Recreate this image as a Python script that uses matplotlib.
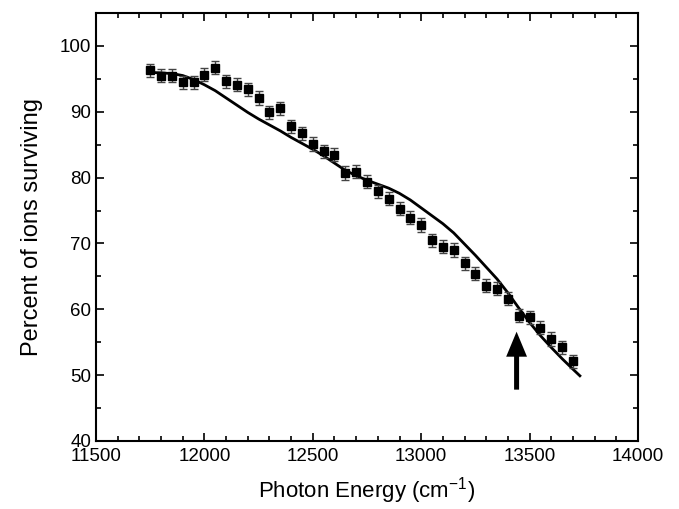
import matplotlib
matplotlib.use("Agg")
import matplotlib.pyplot as plt
from matplotlib.ticker import MultipleLocator

plt.rcParams['font.family'] = ['Liberation Sans', 'DejaVu Sans']

# Measured data points
energy = [11750, 11800, 11850, 11900, 11950, 12000, 12050, 12100, 12150, 12200,
          12250, 12300, 12350, 12400, 12450, 12500, 12550, 12600, 12650, 12700,
          12750, 12800, 12850, 12900, 12950, 13000, 13050, 13100, 13150, 13200,
          13250, 13300, 13350, 13400, 13450, 13500, 13550, 13600, 13650, 13700]
surviving = [96.3, 95.5, 95.5, 94.5, 94.5, 95.6, 96.7, 94.6, 94.1, 93.4,
             92.1, 89.9, 90.5, 87.8, 86.7, 85.1, 84.0, 83.5, 80.7, 80.9,
             79.4, 77.9, 76.8, 75.3, 73.9, 72.8, 70.5, 69.5, 69.0, 67.0,
             65.4, 63.6, 63.1, 61.6, 59.0, 58.8, 57.2, 55.5, 54.2, 52.1]
errors = [1.0, 1.0, 1.0, 1.0, 1.0, 1.0, 1.0, 1.0, 1.0, 1.0,
          1.0, 1.0, 1.0, 1.0, 1.0, 1.0, 1.0, 1.0, 1.0, 1.0,
          1.0, 1.0, 1.0, 1.0, 1.0, 1.0, 1.0, 1.0, 1.0, 1.0,
          1.0, 1.0, 1.0, 1.0, 1.0, 1.0, 1.0, 1.0, 1.0, 1.0]

# Model curve
fit_energy = [11740, 11800, 11850, 11900, 11950, 12000, 12050, 12100, 12150, 12200,
              12250, 12300, 12350, 12400, 12450, 12500, 12550, 12600, 12650, 12700,
              12750, 12800, 12850, 12900, 12950, 13000, 13050, 13100, 13150, 13200,
              13250, 13300, 13350, 13400, 13450, 13500, 13550, 13600, 13650, 13700, 13732]
fit_surviving = [96.0, 95.9, 95.8, 95.5, 94.9, 94.1, 93.2, 92.1, 91.0, 89.9,
                 88.9, 88.0, 87.1, 86.1, 85.2, 84.3, 83.3, 82.2, 81.1, 80.3,
                 79.6, 79.0, 78.4, 77.6, 76.6, 75.4, 74.2, 73.0, 71.6, 69.9,
                 68.2, 66.4, 64.6, 62.5, 60.2, 58.0, 56.0, 54.2, 52.5, 50.9, 49.9]

arrow_x = 13440
arrow_tail = 47.8
arrow_head = 56.6

fig = plt.figure(figsize=(6.79, 5.09), dpi=100)
ax = fig.add_axes([0.1414, 0.1336, 0.7982, 0.8409])

ax.plot(fit_energy, fit_surviving, color='black', lw=2.0, zorder=2)
ax.errorbar(energy, surviving, yerr=errors, fmt='s', color='black', ms=5.5,
            ecolor='#444444', elinewidth=1.0, capsize=3.0, capthick=1.0, zorder=3)

ax.annotate('', xy=(arrow_x, arrow_head), xytext=(arrow_x, arrow_tail),
            arrowprops=dict(arrowstyle='simple,head_width=0.75,head_length=0.9,tail_width=0.18',
                            mutation_scale=20, lw=0, fc='black', ec='none',
                            shrinkA=0, shrinkB=0))

ax.set_xlim(11500, 14000)
ax.set_ylim(40, 105)
ax.xaxis.set_major_locator(MultipleLocator(500))
ax.xaxis.set_minor_locator(MultipleLocator(100))
ax.yaxis.set_major_locator(MultipleLocator(10))
ax.yaxis.set_minor_locator(MultipleLocator(5))
ax.tick_params(which='both', direction='in', top=True, right=True, labelsize=13.5, width=1.2)
ax.tick_params(which='major', length=6)
ax.tick_params(which='minor', length=3.5)
ax.tick_params(axis='x', pad=5)
for s in ax.spines.values():
    s.set_linewidth(1.5)

ax.set_xlabel('Photon Energy (cm$^{\\mathregular{-1}}$)', fontsize=16, labelpad=7)
ax.set_ylabel('Percent of ions surviving', fontsize=17, labelpad=12)

fig.savefig('out.png', dpi=100)
